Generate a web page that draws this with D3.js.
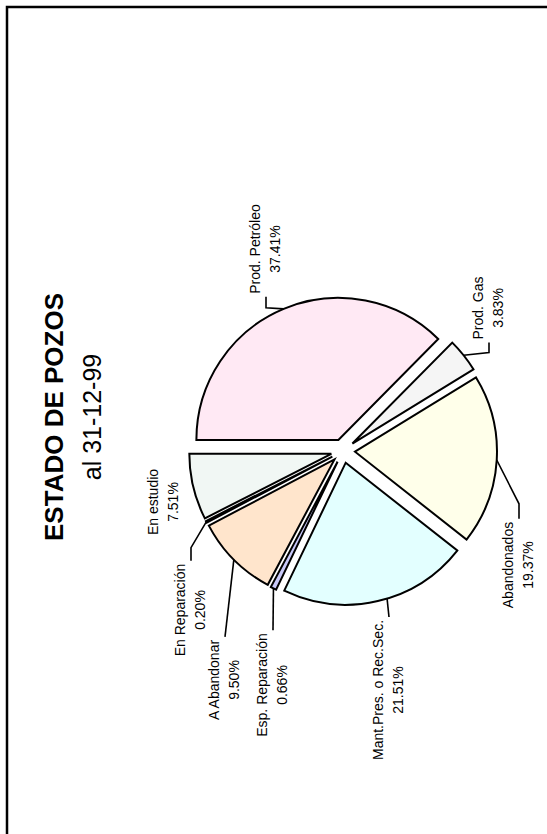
<!DOCTYPE html>
<html>
<head>
<meta charset="utf-8">
<script src="https://cdn.jsdelivr.net/npm/d3@7"></script>
<style>
  body { margin: 0; background: #fff; }
  svg { display: block; }
</style>
</head>
<body>
<div id="chart"></div>
<script>
// data
const categories = ["Prod. Petróleo", "Prod. Gas", "Abandonados", "Mant.Pres. o Rec.Sec.",
    "Esp. Reparación", "A Abandonar", "En Reparación", "En estudio"];
const percents = [37.41, 3.83, 19.37, 21.51, 0.66, 9.50, 0.20, 7.51];
const sliceColors = ["#ffe9f4", "#f5f5f5", "#ffffea", "#e3ffff", "#c8c8f8", "#ffe5cc", "#404040", "#f1f7f4"];

// label layout (chart is drawn landscape, then turned a quarter left)
const labelX = [585, 526, 269, 144, 149, 154, 224, 332];
const labelY = [260, 483, 513, 383, 267, 219, 185, 158];
const elbowLen = [11, 10, 15, 0, 0, 0, 13, null];
// leader start, as a fraction across the slice (0.5 = middle)
const leaderAt = [0.5, 0.5, 0.5, 0.45, 0.5, 0.5, 0.5, 0.5];

const pageW = 547, pageH = 834;
const W = pageH, H = pageW;
const cx = 383, cy = 343, radius = 142, explode = 12, lineGap = 20;
const font = "'Liberation Sans', Arial, sans-serif";

const svg = d3.select("#chart").append("svg")
    .attr("width", pageW)
    .attr("height", pageH);

// frame (only top and left edges show in the scan)
svg.append("path")
    .attr("d", `M7,${pageH} V7 H${pageW}`)
    .attr("fill", "none")
    .attr("stroke", "#000")
    .attr("stroke-width", 2.5);

const g = svg.append("g")
    .attr("transform", `translate(0,${pageH}) rotate(-90)`);

// title
g.append("text")
    .attr("x", W / 2).attr("y", 63)
    .attr("text-anchor", "middle")
    .style("font-family", font).style("font-size", "26px").style("font-weight", "bold")
    .text("ESTADO DE POZOS");
g.append("text")
    .attr("x", W / 2).attr("y", 101)
    .attr("text-anchor", "middle")
    .style("font-family", font).style("font-size", "25px")
    .text("al 31-12-99");

const pie = d3.pie().sort(null).value(d => d);
const arcs = pie(percents);
const arc = d3.arc().innerRadius(0).outerRadius(radius);

function midAngle(d) { return (d.startAngle + d.endAngle) / 2; }

g.selectAll("path.slice")
    .data(arcs)
    .enter()
    .append("path")
    .attr("class", "slice")
    .attr("d", arc)
    .attr("transform", d => {
        const a = midAngle(d);
        return `translate(${cx + Math.sin(a) * explode},${cy - Math.cos(a) * explode})`;
    })
    .attr("fill", (d, i) => sliceColors[i])
    .attr("stroke", "#000")
    .attr("stroke-width", 2)
    .attr("stroke-linejoin", "miter");

// labels
const labels = g.selectAll("g.label")
    .data(arcs)
    .enter()
    .append("g")
    .attr("class", "label")
    .style("font-family", font)
    .style("font-size", "14px");

labels.append("text")
    .attr("class", "name")
    .attr("x", (d, i) => labelX[i])
    .attr("y", (d, i) => labelY[i])
    .attr("text-anchor", "middle")
    .text((d, i) => categories[i]);

labels.append("text")
    .attr("x", (d, i) => labelX[i])
    .attr("y", (d, i) => labelY[i] + lineGap)
    .attr("text-anchor", "middle")
    .text((d, i) => d3.format(".2f")(percents[i]) + "%");

// leader lines
labels.each(function (d, i) {
    if (elbowLen[i] === null) return;
    const sel = d3.select(this);
    const w = sel.select("text.name").node().getComputedTextLength();
    const m = midAngle(d);
    const a = d.startAngle + (d.endAngle - d.startAngle) * leaderAt[i];
    const sx = cx + Math.sin(m) * explode + Math.sin(a) * radius;
    const sy = cy - Math.cos(m) * explode - Math.cos(a) * radius;
    const midY = labelY[i] + 6;
    let edgeX, elbowX;
    if (labelX[i] > sx) {
        edgeX = labelX[i] - w / 2 - 3;
        elbowX = edgeX - elbowLen[i];
    } else {
        edgeX = labelX[i] + w / 2 + 3;
        elbowX = edgeX + elbowLen[i];
    }
    sel.append("path")
        .attr("d", d3.line()([[sx, sy], [elbowX, midY], [edgeX, midY]]))
        .attr("fill", "none")
        .attr("stroke", "#000")
        .attr("stroke-width", 1.6);
});
</script>
</body>
</html>
